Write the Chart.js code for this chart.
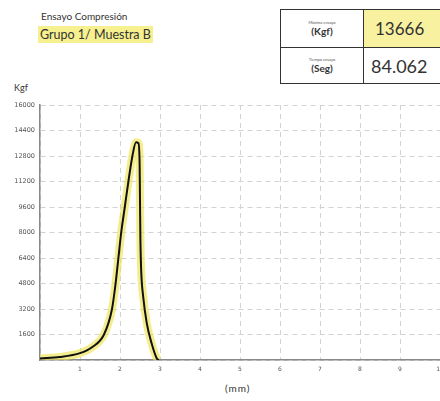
<!DOCTYPE html>
<html>
<head>
<meta charset="utf-8">
<script src="https://cdn.jsdelivr.net/npm/chart.js@4"></script>
<style>
  body { margin: 0; width: 440px; height: 401px; overflow: hidden; background: #fff; font-family: Lato, "Open Sans", sans-serif; color: #333; position: relative; }
  .abs { position: absolute; white-space: nowrap; }
  #wrap { position: absolute; left: 0; top: 0; width: 452px; height: 401px; }
  table { border-collapse: collapse; table-layout: fixed; width: 180px; }
  td { border: 1px solid #333; text-align: center; padding: 0; overflow: hidden; }
</style>
</head>
<body>
<div class="abs" style="left:41px;top:10px;font-size:10px;">Ensayo Compresión</div>
<div class="abs" style="left:38px;top:26px;font-size:12.5px;background:#f6f08e;padding:1px 2px;line-height:15px;">Grupo 1/ Muestra B</div>

<table class="abs" style="left:280px;top:9px;">
  <tr style="height:38px;">
    <td style="width:82px;"><div style="font-size:4px;color:#555;">Máxima ensayo</div><div style="font-size:10px;font-weight:bold;line-height:12px;">(Kgf)</div></td>
    <td style="width:98px;background:#f8f1a0;text-align:left;padding-left:11px;font-size:17px;">13666</td>
  </tr>
  <tr style="height:36px;">
    <td><div style="font-size:4px;color:#555;">Tiempo ensayo</div><div style="font-size:10px;font-weight:bold;line-height:12px;">(Seg)</div></td>
    <td style="text-align:left;padding-left:7px;font-size:18px;">84.062</td>
  </tr>
</table>

<div class="abs" style="left:14px;top:82px;font-size:9px;">Kgf</div>
<div class="abs" style="left:225px;top:382px;font-size:10px;letter-spacing:1px;">(mm)</div>

<div id="wrap"><canvas id="myChart"></canvas></div>

<script>
// Ensayo values (x in mm, y in Kgf)
const desplazamiento = [0, 0.5, 1.0, 1.3, 1.6, 1.8, 1.89, 1.96, 2.03, 2.12, 2.21, 2.31, 2.4, 2.46, 2.49, 2.5, 2.51, 2.53, 2.58, 2.67, 2.79, 2.92, 2.97];
const carga = [100, 190, 430, 800, 1600, 3200, 4800, 6400, 8000, 9600, 11200, 12800, 13666, 13600, 12400, 10000, 7600, 5600, 3970, 2300, 1050, 100, 0];
const yTicks = [1600, 3200, 4800, 6400, 8000, 9600, 11200, 12800, 14400, 16000];
const xTicks = [1, 2, 3, 4, 5, 6, 7, 8, 9, 10];

const puntos = desplazamiento.map((x, i) => ({ x: x, y: carga[i] }));

const ctx = document.getElementById('myChart').getContext('2d');
const myChart = new Chart(ctx, {
  type: 'line',
  data: {
    datasets: [
      {
        data: puntos,
        borderColor: '#111',
        borderWidth: 2,
        pointRadius: 0,
        cubicInterpolationMode: 'monotone',
        fill: false
      },
      {
        data: puntos,
        borderColor: 'rgba(238, 228, 80, 0.65)',
        borderWidth: 8,
        pointRadius: 0,
        cubicInterpolationMode: 'monotone',
        fill: false
      }
    ]
  },
  options: {
    responsive: true,
    maintainAspectRatio: false,
    animation: false,
    layout: { padding: { top: 105, right: 12, bottom: 0, left: 0 } },
    plugins: { legend: { display: false }, tooltip: { enabled: false } },
    scales: {
      x: {
        type: 'linear',
        min: 0,
        max: 10,
        afterBuildTicks: s => { s.ticks = [0].concat(xTicks).map(v => ({ value: v })); },
        afterFit: s => { s.height = 41; },
        ticks: {
          callback: v => (v === 0 ? '' : v),
          color: '#555',
          font: { size: 6, family: 'DejaVu Sans' },
          padding: 6,
          maxRotation: 0
        },
        grid: { color: '#d2d2d2', drawTicks: false },
        border: { color: '#888', width: 1.5, dash: [5, 4] }
      },
      y: {
        min: 0,
        max: 16000,
        afterBuildTicks: s => { s.ticks = [0].concat(yTicks).map(v => ({ value: v })); },
        afterFit: s => { s.width = 40; },
        ticks: {
          callback: v => (v === 0 ? '' : v),
          color: '#555',
          font: { size: 6.5, family: 'DejaVu Sans' },
          padding: 5
        },
        grid: { color: '#d2d2d2', drawTicks: false },
        border: { color: '#888', width: 1.5, dash: [5, 4] }
      }
    }
  }
});
</script>
</body>
</html>
